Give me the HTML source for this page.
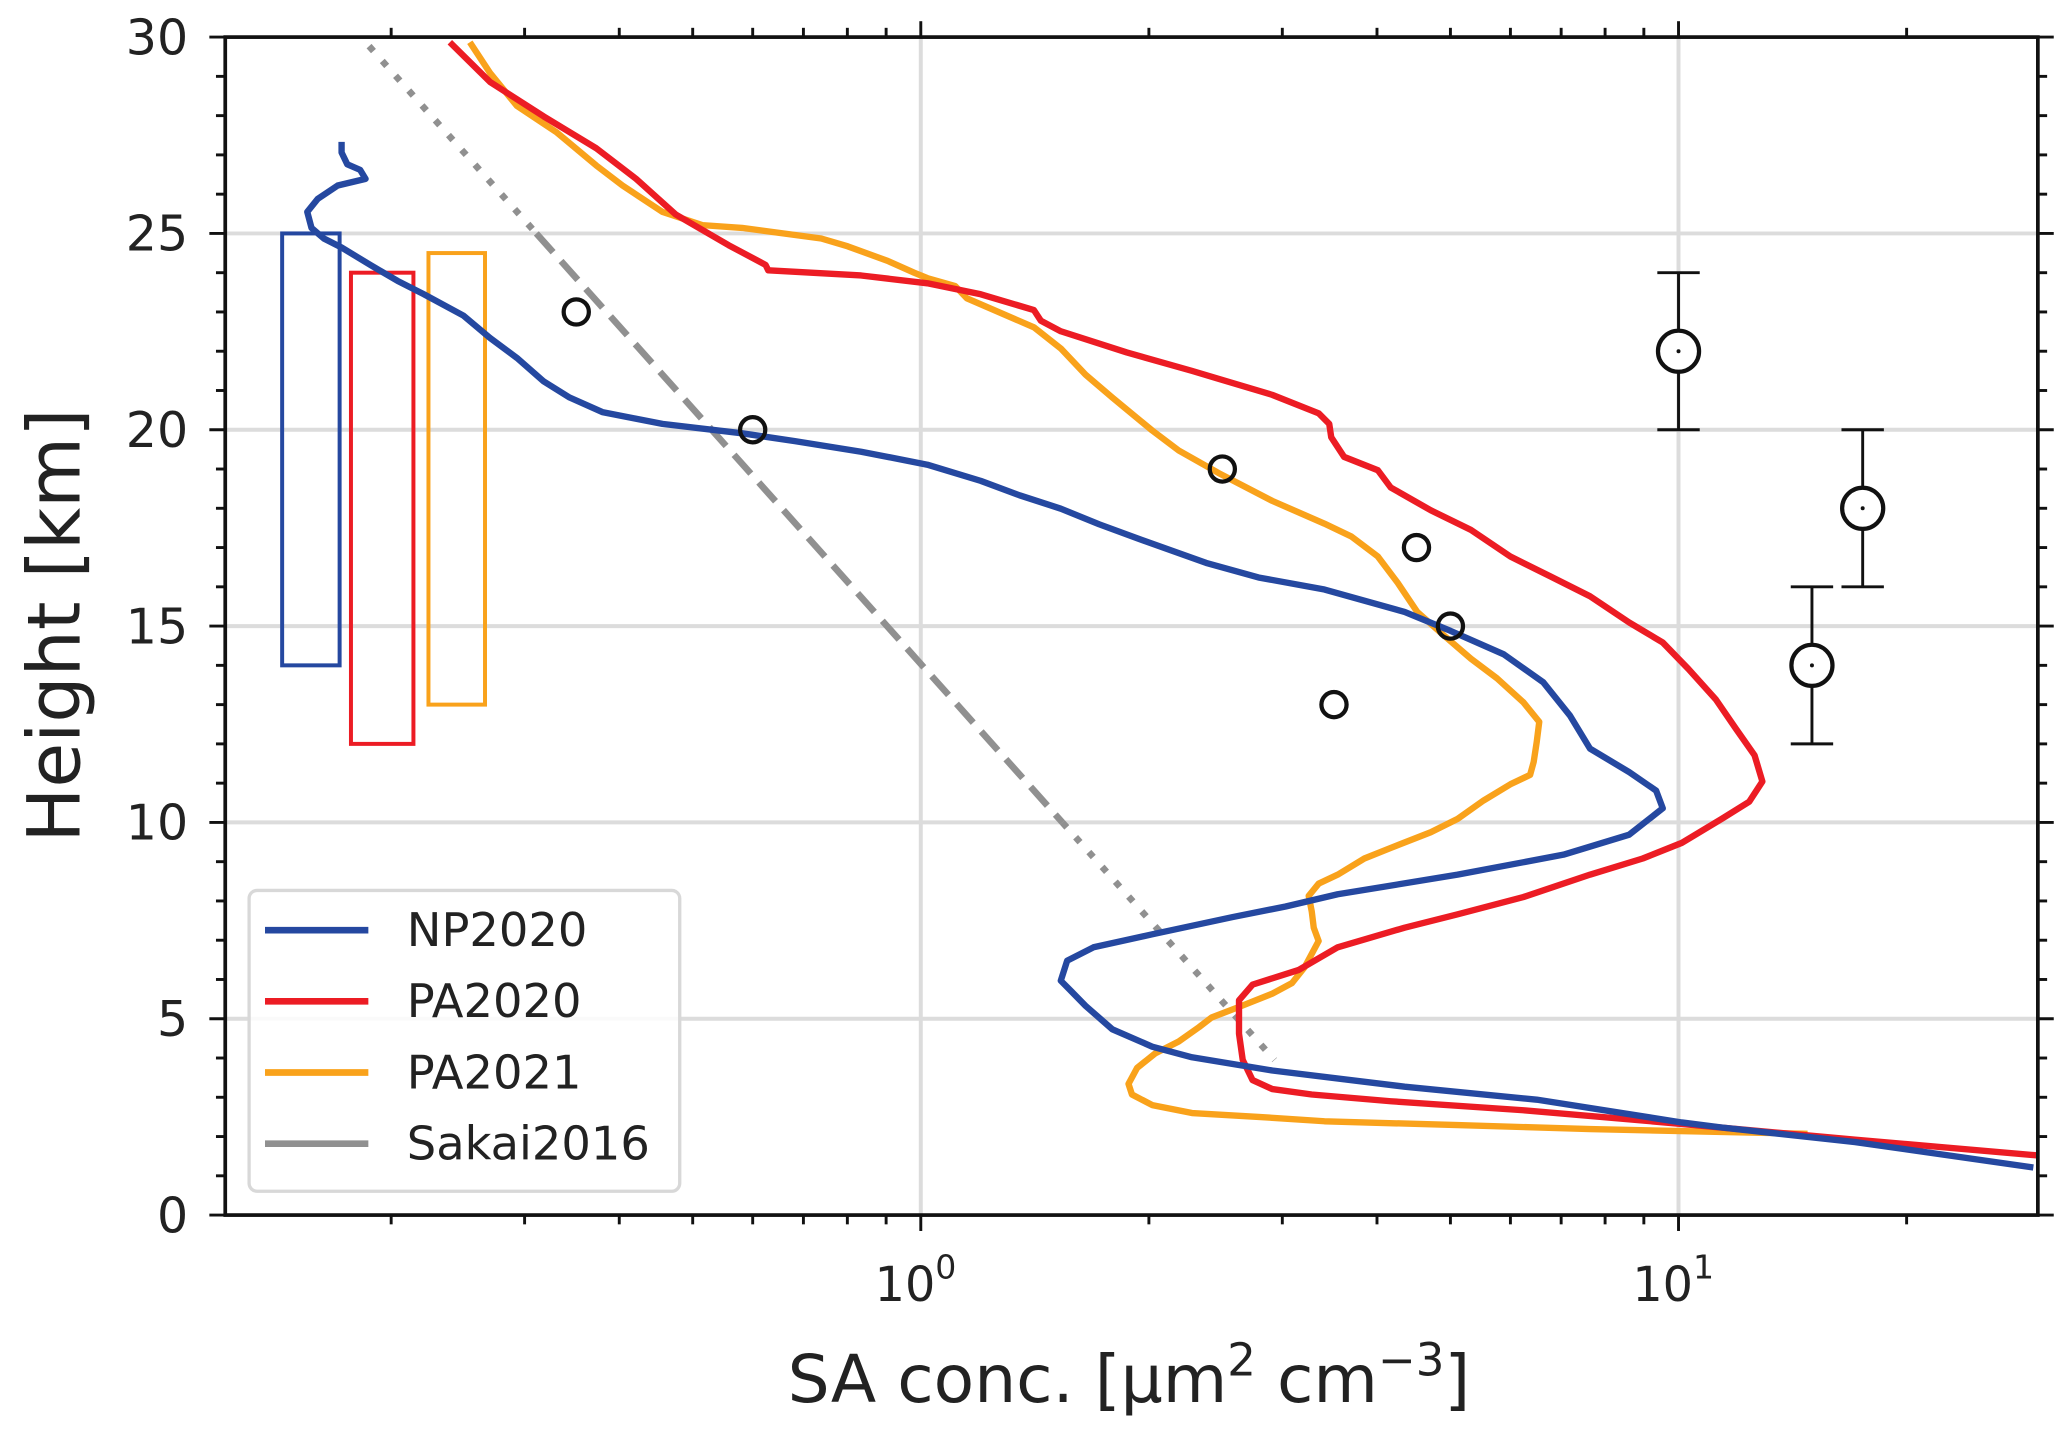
<!DOCTYPE html>
<html><head><meta charset="utf-8"><style>
html,body{margin:0;padding:0;background:#fff;}
svg{display:block;font-family:"DejaVu Sans","Liberation Sans",sans-serif;}
</style></head><body>
<svg id="chart" width="2067" height="1430" viewBox="0 0 1560 1079.2" preserveAspectRatio="none" xmlns="http://www.w3.org/2000/svg"></svg>
<script>
// ---- data ----
const npX=[29.4,17.1,11.4,10.1,6.50,4.35,2.91,2.28,2.02,1.79,1.65,1.58,1.53,1.56,1.69,2.02,2.58,3.03,3.55,5.11,7.05,8.61,9.53,9.34,8.61,7.64,7.19,6.63,5.88,5.00,4.35,3.41,2.79,2.38,1.94,1.72,1.53,1.35,1.20,1.02,0.834,0.682,0.581,0.456,0.421,0.380,0.344,0.318,0.293,0.270,0.249,0.221,0.204,0.188,0.172,0.163,0.157,0.155,0.160,0.170,0.185,0.182,0.175,0.172,0.172];
const npH=[1.21,1.86,2.23,2.36,2.94,3.27,3.68,4.02,4.29,4.73,5.33,5.70,5.97,6.48,6.82,7.15,7.59,7.86,8.17,8.67,9.18,9.69,10.36,10.81,11.28,11.88,12.72,13.57,14.28,14.88,15.36,15.93,16.24,16.61,17.22,17.59,17.99,18.33,18.70,19.11,19.44,19.71,19.91,20.15,20.28,20.45,20.82,21.23,21.83,22.34,22.91,23.45,23.79,24.19,24.64,24.87,25.14,25.55,25.88,26.22,26.39,26.62,26.76,27.06,27.33];
const paX=[29.8,17.1,10.0,6.24,4.17,3.28,2.91,2.74,2.66,2.63,2.63,2.74,3.15,3.55,4.35,5.11,6.24,7.64,8.97,10.1,11.4,12.4,12.9,12.6,11.9,11.2,10.3,9.53,8.61,7.64,6.77,6.00,5.32,4.71,4.17,4.01,3.62,3.48,3.46,3.35,2.91,2.28,1.87,1.53,1.44,1.41,1.20,1.02,0.834,0.629,0.624,0.558,0.475,0.421,0.373,0.318,0.270,0.239];
const paH=[1.52,1.92,2.33,2.67,2.90,3.07,3.21,3.44,3.95,4.62,5.47,5.87,6.24,6.82,7.32,7.66,8.10,8.67,9.08,9.48,10.09,10.53,11.04,11.71,12.39,13.13,13.91,14.58,15.09,15.76,16.27,16.77,17.45,17.95,18.53,18.97,19.31,19.81,20.15,20.42,20.89,21.50,21.97,22.51,22.78,23.05,23.45,23.73,23.93,24.06,24.20,24.70,25.48,26.39,27.17,27.98,28.86,29.87];
const pbX=[14.8,7.64,5.11,3.41,2.79,2.28,2.02,1.90,1.88,1.93,2.04,2.19,2.33,2.42,2.63,2.91,3.09,3.21,3.28,3.35,3.30,3.28,3.25,3.35,3.55,3.85,4.17,4.71,5.11,5.53,6.00,6.37,6.44,6.50,6.55,6.24,5.76,5.32,4.91,4.52,4.26,4.01,3.70,3.41,2.91,2.47,2.19,2.02,1.79,1.65,1.53,1.41,1.15,1.11,1.02,0.98,0.904,0.801,0.739,0.581,0.515,0.456,0.404,0.373,0.331,0.293,0.270,0.254];
const pbH=[2.07,2.19,2.29,2.39,2.50,2.60,2.80,3.07,3.34,3.75,4.12,4.42,4.79,5.03,5.30,5.64,5.91,6.31,6.65,6.98,7.32,7.73,8.13,8.44,8.67,9.08,9.35,9.75,10.09,10.56,10.97,11.21,11.54,12.05,12.56,13.06,13.67,14.17,14.75,15.36,16.10,16.77,17.28,17.61,18.19,18.90,19.47,19.98,20.82,21.40,22.07,22.61,23.35,23.66,23.86,24.00,24.30,24.67,24.87,25.14,25.21,25.55,26.22,26.73,27.57,28.25,29.09,29.87];
const sakaiX=[0.187,2.93];
const sakaiH=[29.77,3.95];
const sakaiBreaks=[25,10];
const obsX=[0.351,0.600,2.50,4.51,5.00,3.51];
const obsH=[23.0,20.0,19.0,17.0,15.0,13.0];
const errX=[10.0,17.5,15.0];
const errH=[22,18,14];
const errLo=[20,16,12];
const errHi=[24,20,16];
const boxX0=[0.1436,0.177,0.224];
const boxX1=[0.171,0.214,0.266];
const boxTop=[25,24,24.5];
const boxBot=[14,12,13];
const yTicks=[0,5,10,15,20,25,30];
const xMajor=[1,10];
const xMajorExp=["0","1"];
const legendLabels=["NP2020","PA2020","PA2021","Sakai2016"];

// ---- layout ----
const L=170,R=1538,T=28,B=917;
const XMIN=0.1208,XMAX=29.8;
const sx=v=>L+(Math.log10(v)-Math.log10(XMIN))/(Math.log10(XMAX)-Math.log10(XMIN))*(R-L);
const sy=h=>B-(h/30)*(B-T);
const svg=document.getElementById('chart');
const NS='http://www.w3.org/2000/svg';
function mk(tag,attrs,parent){const e=document.createElementNS(NS,tag);for(const k in attrs)e.setAttribute(k,attrs[k]);(parent||svg).appendChild(e);return e;}
const COL={np:'#2548a0',pa:'#ec1c24',pb:'#f9a21b',gr:'#909090'};

// grid
let g=mk('g',{});


yTicks.forEach(t=>{if(t>0&&t<30)mk('line',{x1:L,x2:R,y1:sy(t),y2:sy(t),stroke:'#dcdcdc','stroke-width':3},g);});
xMajor.forEach(v=>mk('line',{x1:sx(v),x2:sx(v),y1:T,y2:B,stroke:'#dcdcdc','stroke-width':3},g));

// clip
const defs=mk('defs',{});
const cp=mk('clipPath',{id:'clip'},defs);
mk('rect',{x:L,y:T,width:R-L,height:B-T},cp);
const plot=mk('g',{'clip-path':'url(#clip)'});



function path(xs,hs){return xs.map((v,i)=>(i?'L':'M')+sx(v).toFixed(1)+','+sy(hs[i]).toFixed(1)).join('');}

// boxes
const boxCols=[COL.np,COL.pa,COL.pb];
const boxNames=['np2020-range-box','pa2020-range-box','pa2021-range-box'];
boxX0.forEach((v,i)=>{const r=mk('rect',{x:sx(v),y:sy(boxTop[i]),width:sx(boxX1[i])-sx(v),height:sy(boxBot[i])-sy(boxTop[i]),fill:'none',stroke:boxCols[i],'stroke-width':3},plot);

});

// sakai line
const lx0=Math.log10(sakaiX[0]),lx1=Math.log10(sakaiX[1]);
const atH=h=>Math.pow(10,lx0+(h-sakaiH[0])/(sakaiH[1]-sakaiH[0])*(lx1-lx0));
const segs=[[sakaiH[0],sakaiBreaks[0],'dot'],[sakaiBreaks[0],sakaiBreaks[1],'dash'],[sakaiBreaks[1],sakaiH[1],'dot']];
segs.forEach(s=>{const l=mk('line',{x1:sx(atH(s[0])),y1:sy(s[0]),x2:sx(atH(s[1])),y2:sy(s[1]),stroke:COL.gr,'stroke-width':5,'stroke-dasharray':s[2]=='dot'?'5 10':'19 9'},plot);

});

// series
[[pbX,pbH,COL.pb,'pa2021-line'],[paX,paH,COL.pa,'pa2020-line'],[npX,npH,COL.np,'np2020-line']].forEach(s=>{
const p=mk('path',{d:path(s[0],s[1]),fill:'none',stroke:s[2],'stroke-width':4.8,'stroke-linejoin':'round'},plot);

});

// obs circles
obsX.forEach((v,i)=>{const c=mk('circle',{cx:sx(v),cy:sy(obsH[i]),r:9.5,fill:'none',stroke:'#111','stroke-width':3.2},plot);

});
errX.forEach((v,i)=>{const gg=mk('g',{},plot);


const x=sx(v);
mk('line',{x1:x,x2:x,y1:sy(errLo[i]),y2:sy(errHi[i]),stroke:'#111','stroke-width':2.2},gg);
mk('line',{x1:x-16,x2:x+16,y1:sy(errLo[i]),y2:sy(errLo[i]),stroke:'#111','stroke-width':2.2},gg);
mk('line',{x1:x-16,x2:x+16,y1:sy(errHi[i]),y2:sy(errHi[i]),stroke:'#111','stroke-width':2.2},gg);
mk('circle',{cx:x,cy:sy(errH[i]),r:15.5,fill:'#fff',stroke:'#111','stroke-width':3.2},gg);
mk('circle',{cx:x,cy:sy(errH[i]),r:1.5,fill:'#111'},gg);});

// axes
const ax=mk('g',{});


mk('rect',{x:L,y:T,width:R-L,height:B-T,fill:'none',stroke:'#111','stroke-width':2.8},ax);
for(let h=0;h<=30;h++){const major=h%5==0,len=major?12:7,y=sy(h);
mk('line',{x1:L-len,x2:L,y1:y,y2:y,stroke:'#111','stroke-width':2.2},ax);
mk('line',{x1:R,x2:R+len,y1:y,y2:y,stroke:'#111','stroke-width':2.2},ax);}
yTicks.forEach(t=>{const tx=mk('text',{x:142,y:sy(t)+13,'text-anchor':'end','font-size':37,fill:'#222'},ax);tx.textContent=t;

});
[0.1,1,10].forEach(d=>{for(let m=1;m<10;m++){const v=d*m;if(v<XMIN||v>XMAX)continue;const major=m==1,len=major?12:7,x=sx(v);
mk('line',{x1:x,x2:x,y1:B,y2:B+len,stroke:'#111','stroke-width':2.2},ax);
mk('line',{x1:x,x2:x,y1:T-len,y2:T,stroke:'#111','stroke-width':2.2},ax);}});
xMajor.forEach((v,i)=>{const tx=mk('text',{x:sx(v)-4,y:982,'text-anchor':'middle','font-size':36,fill:'#222'},ax);
tx.innerHTML='10<tspan dy="-17" font-size="25">'+xMajorExp[i]+'</tspan>';

});

// titles
const yt=mk('text',{x:0,y:0,transform:'translate(60,472) rotate(-90)','text-anchor':'middle','font-size':55,fill:'#222'});
yt.textContent='Height [km]';


const xt=mk('text',{x:852,y:1058,'text-anchor':'middle','font-size':50,fill:'#222'});
xt.innerHTML='SA conc. [μm<tspan dy="-20" font-size="34">2</tspan><tspan dy="20"> cm</tspan><tspan dy="-20" font-size="34">−3</tspan><tspan dy="20">]</tspan>';



// legend
const lg=mk('g',{});


mk('rect',{x:188,y:672,width:325,height:227,rx:6,fill:'rgba(255,255,255,0.85)',stroke:'#d8d8d8','stroke-width':2.5},lg);
const lcols=[COL.np,COL.pa,COL.pb,COL.gr];
legendLabels.forEach((t,i)=>{const y=702+i*53.7;const e=mk('g',{},lg);


mk('line',{x1:200,x2:278,y1:y,y2:y,stroke:lcols[i],'stroke-width':5},e);
const tx=mk('text',{x:307,y:y+12,'font-size':35,fill:'#222'},e);tx.textContent=t;});
</script>
</body></html>
